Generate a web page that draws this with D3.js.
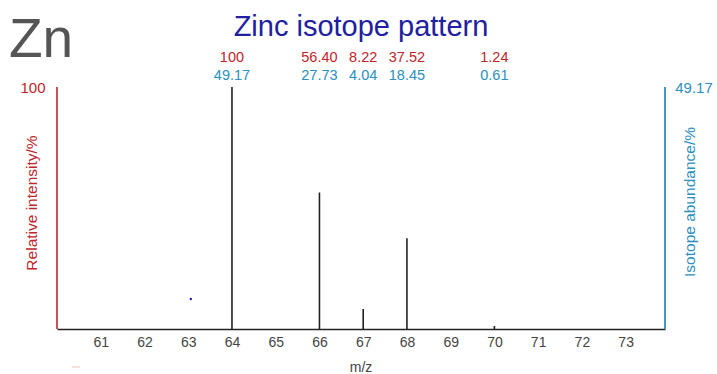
<!DOCTYPE html>
<html>
<head>
<meta charset="utf-8">
<script src="https://cdn.jsdelivr.net/npm/d3@7"></script>
<style>
  html, body { margin: 0; padding: 0; background: #fff; }
  svg { display: block; font-family: "Liberation Sans", Arial, sans-serif; }
</style>
</head>
<body>
<svg id="chart" width="717" height="374"></svg>
<script>
const masses = [64, 66, 67, 68, 70];
const relIntensity = [100, 56.40, 8.22, 37.52, 1.24];
const abundance = [49.17, 27.73, 4.04, 18.45, 0.61];
const relLabels = ["100", "56.40", "8.22", "37.52", "1.24"];
const abLabels = ["49.17", "27.73", "4.04", "18.45", "0.61"];
const xTicks = [61, 62, 63, 64, 65, 66, 67, 68, 69, 70, 71, 72, 73];
const strayDot = [{ mz: 63.06, rel: 12.4 }];

const svg = d3.select("#chart");
const margin = { left: 57, right: 665, top: 87, bottom: 329 };
const x = d3.scaleLinear().domain([60, 73.9]).range([margin.left, margin.right]);
const yRel = d3.scaleLinear().domain([0, 100]).range([margin.bottom, margin.top]);

const red = "#c0252b", blue = "#2a8fc0", gray = "#444";

// Element symbol
svg.append("text").attr("x", 9).attr("y", 57)
  .attr("font-size", 55).attr("fill", "#555").text("Zn");

// Title
svg.append("text").attr("x", 361).attr("y", 36).attr("text-anchor", "middle")
  .attr("font-size", 29).attr("fill", "#2020a0").text("Zinc isotope pattern");

// Peak labels
svg.append("g").selectAll("text").data(masses).join("text")
  .attr("x", d => x(d)).attr("y", 62).attr("text-anchor", "middle")
  .attr("font-size", 14.5).attr("fill", red).text((d, i) => relLabels[i]);
svg.append("g").selectAll("text").data(masses).join("text")
  .attr("x", d => x(d)).attr("y", 80).attr("text-anchor", "middle")
  .attr("font-size", 14.5).attr("fill", blue).text((d, i) => abLabels[i]);

// Bars (sticks)
svg.append("g").selectAll("line").data(masses).join("line")
  .attr("x1", d => x(d)).attr("x2", d => x(d))
  .attr("y1", yRel(0)).attr("y2", (d, i) => yRel(relIntensity[i]))
  .attr("stroke", "#222").attr("stroke-width", 1.6);

// stray dot
svg.append("g").selectAll("circle").data(strayDot).join("circle")
  .attr("cx", d => x(d.mz)).attr("cy", d => yRel(d.rel)).attr("r", 1.2).attr("fill", "#2020d0");

// X axis
const xAxis = d3.axisBottom(x).tickValues(xTicks).tickSize(0).tickPadding(8).tickFormat(d3.format("d"));
const gx = svg.append("g").attr("transform", `translate(0,${margin.bottom})`).call(xAxis);
gx.select(".domain").attr("stroke", "#222").attr("stroke-width", 1.6);
gx.selectAll("text").attr("font-size", 14).attr("fill", gray)
  .attr("font-family", "Liberation Sans, Arial, sans-serif");

// Left axis (red)
svg.append("line").attr("x1", margin.left).attr("x2", margin.left)
  .attr("y1", yRel(100)).attr("y2", yRel(0)).attr("stroke", red).attr("stroke-width", 1.6);
svg.append("text").attr("x", 33).attr("y", 93).attr("text-anchor", "middle")
  .attr("font-size", 15).attr("fill", red).text("100");
svg.append("text").attr("transform", "translate(37,203) rotate(-90)")
  .attr("text-anchor", "middle").attr("font-size", 15.5).attr("fill", red).text("Relative intensity/%");

// Right axis (blue)
svg.append("line").attr("x1", margin.right).attr("x2", margin.right)
  .attr("y1", yRel(100)).attr("y2", yRel(0)).attr("stroke", blue).attr("stroke-width", 1.8);
svg.append("text").attr("x", 694).attr("y", 93).attr("text-anchor", "middle")
  .attr("font-size", 15).attr("fill", blue).text("49.17");
svg.append("text").attr("transform", "translate(695,202) rotate(-90)")
  .attr("text-anchor", "middle").attr("font-size", 15.5).attr("fill", blue).text("Isotope abundance/%");

// x axis title
svg.append("text").attr("x", 361).attr("y", 372).attr("text-anchor", "middle")
  .attr("font-size", 14).attr("fill", gray).text("m/z");

// tiny red dash
svg.append("line").attr("x1", 72).attr("x2", 80).attr("y1", 367).attr("y2", 367)
  .attr("stroke", "#f0c0c0").attr("stroke-width", 1);
</script>
</body>
</html>
